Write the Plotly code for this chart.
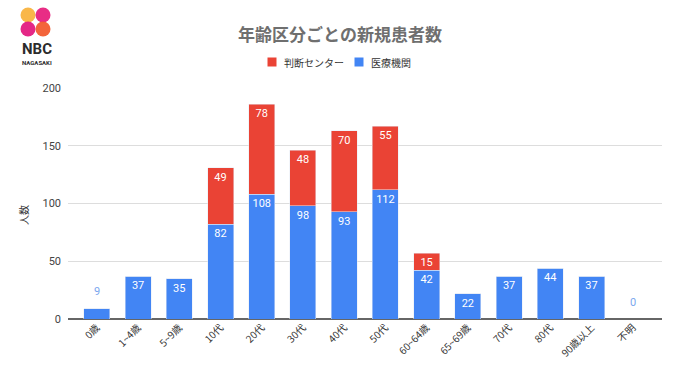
import plotly.graph_objects as go

categories = ["0歳", "1~4歳", "5~9歳", "10代", "20代", "30代", "40代", "50代",
              "60~64歳", "65~69歳", "70代", "80代", "90歳以上", "不明"]
iryo = [9, 37, 35, 82, 108, 98, 93, 112, 42, 22, 37, 44, 37, 0]
handan = [0, 0, 0, 49, 78, 48, 70, 55, 15, 0, 0, 0, 0, 0]
y_ticks = [0, 50, 100, 150, 200]
series_names = ["判断センター", "医療機関"]

BLUE = "#4285F4"
RED = "#EA4335"
FONT = "Noto Sans CJK JP, Roboto, Arial, sans-serif"
NUMFONT = "Roboto, Arial, sans-serif"

W, H = 680, 382
L, R, T, B = 68, 18, 88, 63
pw, ph = W - L - R, H - T - B

def px(x):
    return (x - L) / pw

def py(y):
    return (H - B - y) / ph

SMALL = 20  # values too small to hold a label inside
blue_text = [str(v) if v >= SMALL else "" for v in iryo]
red_text = [str(v) if v > 0 else "" for v in handan]

fig = go.Figure()
fig.add_trace(go.Bar(
    x=categories, y=iryo, name=series_names[1], marker_color=BLUE,
    text=blue_text, textposition="inside", insidetextanchor="end",
    textfont=dict(color="white", size=11, family=NUMFONT), width=0.63,
    textangle=0, constraintext="none",
))
fig.add_trace(go.Bar(
    x=categories, y=handan, name=series_names[0], marker_color=RED,
    text=red_text, textposition="inside", insidetextanchor="end",
    textfont=dict(color="white", size=11, family=NUMFONT), width=0.63,
    textangle=0, constraintext="none",
))

annotations = []
for c, v in zip(categories, iryo):
    if v < SMALL:
        annotations.append(dict(x=c, y=v, text=str(v), showarrow=False,
                                yanchor="middle", yshift=17,
                                font=dict(color="#7BA7EE", size=11, family=NUMFONT)))

def ann(x, y, text, size, color, family=FONT, xanchor="center", angle=0):
    annotations.append(dict(xref="paper", yref="paper", x=px(x), y=py(y), text=text,
                            showarrow=False, xanchor=xanchor, yanchor="middle",
                            textangle=angle, borderpad=0,
                            font=dict(size=size, color=color, family=family)))

# Y axis title
ann(23, 215, "人数", 10, "#333333", angle=-90)
# Logo text
ann(37, 49, "<b>NBC</b>", 15, "#2b2b2b", family=NUMFONT)
ann(37, 62, "<b>NAGASAKI</b>", 6, "#2b2b2b", family=NUMFONT)

shapes = []
circles = [(28, 15, "#F8B13A"), (43, 15, "#E61B7B"), (28, 29, "#E2157C"), (43, 29, "#F2572A")]
r = 7.5
for cx, cy, col in circles:
    shapes.append(dict(type="circle", xref="paper", yref="paper",
                       x0=px(cx - r), x1=px(cx + r), y0=py(cy + r), y1=py(cy - r),
                       fillcolor=col, line=dict(width=0), opacity=0.92))

# Legend (manual, to match spacing)
legend_items = [(272, RED, series_names[0]), (359, BLUE, series_names[1])]
for cx, col, name in legend_items:
    shapes.append(dict(type="rect", xref="paper", yref="paper",
                       x0=px(cx - 4.5), x1=px(cx + 4.5), y0=py(66.5), y1=py(57.5),
                       fillcolor=col, line=dict(width=0)))
    ann(cx + 11, 62, name, 10, "#333333", xanchor="left")

fig.update_layout(
    width=W, height=H,
    margin=dict(l=L, r=R, t=T, b=B, autoexpand=False),
    barmode="stack",
    plot_bgcolor="white", paper_bgcolor="white",
    font=dict(family=FONT, color="#333333"),
    title=dict(text="<b>年齢区分ごとの新規患者数</b>", x=0.5, xanchor="center",
               y=1 - 35 / H, yanchor="middle",
               font=dict(size=17, color="#6f6f6f", family=FONT)),
    showlegend=False,
    xaxis=dict(tickangle=-45, tickfont=dict(size=10, color="#333333", family=FONT),
               range=[-0.7, 13.71], showgrid=False, showline=False, ticks="",
               automargin=False),
    yaxis=dict(range=[0, 200], tickvals=y_ticks, showgrid=True, gridcolor="#dddddd",
               zeroline=True, zerolinecolor="#666666", zerolinewidth=1.5,
               tickfont=dict(size=11, color="#444444", family=NUMFONT), ticks="",
               ticklabelstandoff=6, automargin=False),
    annotations=annotations,
    shapes=shapes,
)

fig.write_html("out.html", config={"displayModeBar": False},
               post_script="document.body.style.margin='0';document.body.style.overflow='hidden';")
